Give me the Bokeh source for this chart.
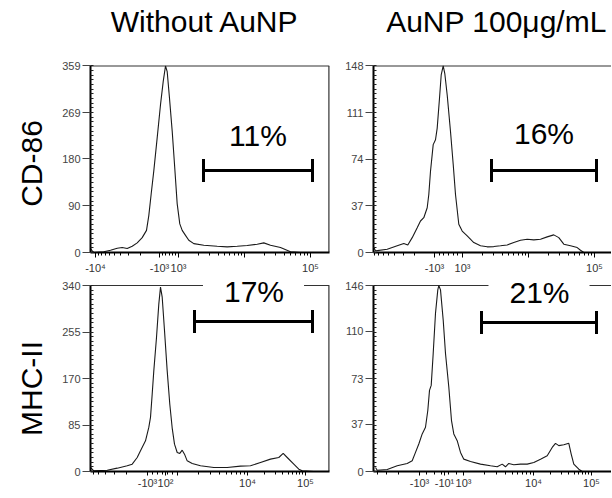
import numpy as np
from bokeh.plotting import figure
from bokeh.models import Range1d, FixedTicker, Span, Label
from bokeh.layouts import column, row
from bokeh.embed import file_html
from bokeh.resources import INLINE

FONT = "Liberation Sans"

col_titles = ["Without AuNP", "AuNP 100\u03bcg/mL"]
row_labels = ["CD-86", "MHC-II"]

# ---- histogram data (x in display channels, y in cell counts) ----
cd86_ctrl_x = [0, 1.7, 3.3, 13.3, 20, 26.7, 31.7, 36.7, 41.7, 46.7, 51.7, 56, 58.3, 60.7, 63.3,
               66.7, 70, 72.7, 75, 76.7, 79, 81.7, 84, 86.7, 89.3, 91.7, 95, 98.3, 103.3, 113.3,
               126.7, 136.7, 146.7, 156.7, 166.7, 173.3, 180, 190, 200, 210, 230]
cd86_ctrl_y = [7.6, 3, 0, 1.3, 4.5, 8.3, 9.5, 7.6, 12, 18.5, 28.6, 42.6, 71, 113, 157,
               221, 284.5, 329, 359, 348, 297, 233.6, 170, 93.6, 55, 42.6, 33, 23.5, 17, 14,
               12, 10.8, 12, 13.4, 16, 18.5, 14, 9.5, 1.3, 0, 0]

cd86_aunp_x = [0.3, 2, 13.7, 23.7, 30.3, 34.3, 38.7, 43.7, 47, 50.3, 53.7, 55.3, 57, 59.7, 62,
               63.7, 66, 67.7, 69.7, 71.3, 73.7, 77, 79.7, 82, 85.3, 88.7, 93.7, 100.3, 107, 113.7,
               120.3, 127, 133.7, 140.3, 147, 153.7, 160.3, 167, 173.7, 180.3, 185.3, 190.3, 197,
               203.7, 207, 210.3, 220.3]
cd86_aunp_y = [3.9, 1.3, 2.6, 5.3, 7.1, 6, 11.8, 19.7, 25, 27.6, 35.5, 46, 64.5, 85.6, 89.5,
               98.7, 122.4, 140.9, 148, 142, 125, 96, 70, 46, 22.4, 17, 13.2, 7.9, 5.3, 4.5,
               4.7, 5.3, 6, 7.9, 9.7, 10.5, 10, 10.5, 12.4, 14, 11.8, 6.6, 5.3,
               3.9, 1.8, 0, 0]

mhc_ctrl_x = [0, 3.3, 16.7, 26.7, 36.7, 41.7, 46.7, 50, 55, 58.3, 60, 61.7, 63.3, 66, 68.3,
              70, 71.7, 74, 76.7, 79.3, 81.7, 84, 86.7, 89.3, 91.7, 94, 96.7, 101.7, 110, 123.3,
              136.7, 150, 160, 170, 180, 188.3, 192.7, 196.7, 203.3, 208.3, 211.7, 223.3]
mhc_ctrl_y = [7.3, 1.2, 2.4, 6.1, 10.4, 13.4, 25.6, 37.8, 56, 80.6, 99, 141.6, 184, 245, 306,
              337, 318.6, 257.6, 184, 123, 79.4, 50, 34.8, 33, 39, 31.7, 19.5, 14.6, 10.4, 7.3,
              7.3, 9.8, 10.4, 16.5, 22.6, 25.6, 33, 25.6, 13.4, 4.3, 1.2, 0]

mhc_aunp_x = [2, 3.7, 13.7, 23.7, 33.7, 38.7, 42, 45.3, 48.7, 52, 54.3, 56, 57.7, 59.7, 62,
              64.3, 65.3, 67, 69.7, 72, 75.3, 78, 80.3, 83.7, 87, 90.3, 97, 107, 117, 123.7,
              128.7, 132, 135.3, 140.3, 147, 153.7, 160.3, 167, 173.7, 178.7, 182, 185.3, 190.3,
              195.3, 197.7, 200.3, 205.3, 208.7, 220.3]
mhc_aunp_y = [3.2, 1, 1.6, 4.5, 6.3, 8.4, 15, 21.6, 29.5, 34.7, 47.9, 63.7, 67.6, 92.6, 124.2,
              142.6, 146, 142.6, 118.9, 92.6, 66.3, 40, 29.5, 24.2, 15, 9.7, 7.9, 5.8, 4.5, 3.7,
              5.8, 3.7, 6.3, 5.3, 5.8, 5.8, 7.1, 9.7, 12.4, 18.9, 22.1, 20.3, 21, 22.1,
              13.7, 5.8, 1.8, 0, 0]

# ---- y axis maxima and tick labels ----
y_max = [359, 148, 340, 146]
y_ticks = [[0, 90, 180, 269, 359], [0, 37, 74, 111, 148], [0, 85, 170, 255, 340], [0, 37, 73, 110, 146]]

# ---- x (biexponential display) tick positions in channels and labels ----
x_ticks = [[5, 69, 88, 154, 220], [61, 89, 155, 221], [57, 75, 87, 157, 215], [46, 71, 90, 160, 218]]
x_labels = [["-10\u2074", "-10\u00b3", "10\u00b3", "", "10\u2075"],
            ["-10\u00b3", "10\u00b3", "", "10\u2075"],
            ["-10\u00b3", "10\u00b2", "", "10\u2074", "10\u2075"],
            ["-10\u00b3", "-10\u00b9", "10\u00b3", "10\u2074", "10\u2075"]]
# decades used for minor ticks: (position of 10^k, position of 10^(k+1))
x_decades = [[(69, 5), (88, 154), (154, 220)],
             [(61, -5), (89, 155), (155, 221)],
             [(57, -13), (87, 157), (157, 215)],
             [(46, -24), (90, 160), (160, 218)]]
x_linear = [(69, 88), (61, 89), (57, 87), (46, 90)]

# ---- gates (channels) and percentages ----
gate_lo = [113, 118, 104, 108]
gate_hi = [222, 223, 222, 223]
gate_level = [158, 65, 274, 117]
gate_pct = ["11%", "16%", "17%", "21%"]

hist_x = [cd86_ctrl_x, cd86_aunp_x, mhc_ctrl_x, mhc_aunp_x]
hist_y = [cd86_ctrl_y, cd86_aunp_y, mhc_ctrl_y, mhc_aunp_y]

# layout (pixels)
LABEL_W = 55             # strip holding the row labels
FIG_H = [276, 221]
PLOT_H = [188, 186]      # height of the 0..max histogram area
HEAD = [66, 9]           # room above the histogram area (title / label space)
BOTTOM = [22, 26]
ROW_LABEL_CENTER = [163, 388]   # vertical centre of each row label, from the top
TOTAL_H = sum(FIG_H)


def minor_ticks(decades, lin):
    out = []
    for a, b in decades:
        for m in range(2, 10):
            out.append(a + (b - a) * np.log10(m))
    out += list(np.linspace(lin[0], lin[1], 7)[1:-1])
    return [float(v) for v in out]


def make_panel(i):
    r, c = divmod(i, 2)
    is_left = c == 0
    is_top = r == 0
    width = 337 - LABEL_W if is_left else 274
    xmax = 239 if is_left else 238
    y_end = y_max[i] * (PLOT_H[r] + HEAD[r]) / PLOT_H[r]
    p = figure(width=width, height=FIG_H[r], output_backend="svg", toolbar_location=None,
               title=None,
               x_range=Range1d(0, xmax), y_range=Range1d(0, y_end),
               min_border_left=90 - LABEL_W if is_left else 36, min_border_right=8 if is_left else 0,
               min_border_top=0, min_border_bottom=BOTTOM[r])
    p.outline_line_color = None
    p.grid.visible = False
    p.background_fill_color = "white"
    p.border_fill_color = "white"

    # frame borders
    p.add_layout(Span(location=y_max[i], dimension="width", line_color="#333333",
                      line_width=1.2, level="underlay"))
    if is_left:
        p.segment(x0=[xmax], y0=[0], x1=[xmax], y1=[y_max[i]], line_color="#333333",
                  line_width=2.4, level="underlay")

    # histogram
    p.line(hist_x[i], hist_y[i], line_color="#1a1a1a", line_width=1.1)

    # gate bar
    p.segment(x0=[gate_lo[i]], y0=[gate_level[i]], x1=[gate_hi[i]], y1=[gate_level[i]],
              line_color="black", line_width=3)
    p.scatter(x=[gate_lo[i], gate_hi[i]], y=[gate_level[i], gate_level[i]], marker="dash",
              angle=np.pi / 2, size=23, line_color="black", line_width=3)

    lab_kw = dict(x=(gate_lo[i] + gate_hi[i]) / 2, y=gate_level[i],
                  y_offset=[35, 37, 33, 33][i],
                  text=gate_pct[i], text_align="center", text_baseline="middle",
                  text_font=FONT, text_font_size="30px", text_color="black")
    if not is_top:
        lab_kw["background_fill_color"] = "white"
        if "padding" in Label.properties():
            lab_kw["padding"] = dict(left=21, right=20, top=8, bottom=2)
    p.add_layout(Label(**lab_kw))

    # column title (sits in the headroom above the histogram)
    if is_top:
        p.add_layout(Label(x=xmax / 2, y=y_max[i], x_offset=-5 if is_left else 4, y_offset=44,
                           text=col_titles[c], text_align="center", text_baseline="middle",
                           text_font=FONT, text_font_size="30px", text_color="black"))

    # y axis
    ya = p.yaxis[0]
    ya.bounds = (0, y_max[i])
    ya.ticker = FixedTicker(ticks=y_ticks[i],
                            minor_ticks=[float(v) for v in np.linspace(0, y_max[i], 41)])
    ya.axis_line_width = 2
    ya.axis_line_color = "black"
    ya.major_tick_out = 8
    ya.major_tick_in = 0
    ya.major_tick_line_color = "#444444"
    ya.minor_tick_in = 3
    ya.minor_tick_out = 0
    ya.minor_tick_line_color = "#222222"
    ya.major_label_standoff = 2
    ya.major_label_text_font = FONT
    ya.major_label_text_font_size = "11px"
    ya.major_label_text_color = "#444444"

    # x axis
    xa = p.xaxis[0]
    xt = x_ticks[i]
    xa.ticker = FixedTicker(ticks=xt, minor_ticks=minor_ticks(x_decades[i], x_linear[i]))
    xa.major_label_overrides = {t: lab for t, lab in zip(xt, x_labels[i])}
    xa.axis_line_width = 2
    xa.axis_line_color = "black"
    xa.major_tick_out = 5 if is_top else 4
    xa.major_tick_in = 0
    xa.minor_tick_out = 3
    xa.minor_tick_in = 0
    xa.major_label_standoff = 4 if is_top else 1
    xa.major_label_text_font = FONT
    xa.major_label_text_font_size = "11px"
    xa.major_label_text_color = "#333333"
    return p


# strip with the row labels (CD-86 / MHC-II), rotated
strip = figure(width=LABEL_W, height=TOTAL_H, output_backend="svg", toolbar_location=None,
               title=None, x_range=Range1d(0, LABEL_W), y_range=Range1d(0, TOTAL_H),
               min_border=0, x_axis_location=None, y_axis_location=None)
strip.outline_line_color = None
strip.grid.visible = False
strip.background_fill_color = "white"
strip.border_fill_color = "white"
for lab, yc in zip(row_labels, ROW_LABEL_CENTER):
    strip.add_layout(Label(x=31, y=TOTAL_H - yc, angle=np.pi / 2, text=lab,
                           text_align="center", text_baseline="middle", text_font=FONT,
                           text_font_size="30px", text_color="black"))

panels = [make_panel(i) for i in range(4)]
layout = row(strip, column(row(panels[0], panels[1]), row(panels[2], panels[3])))

open("out.html", "w").write(file_html(layout, INLINE))
